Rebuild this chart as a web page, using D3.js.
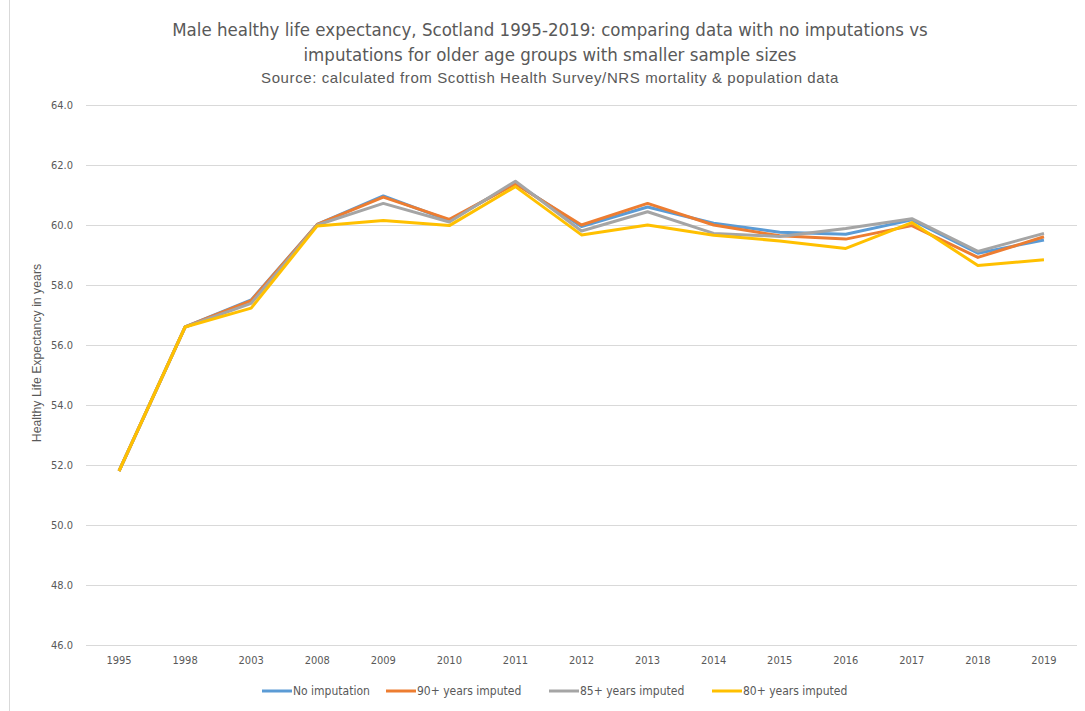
<!DOCTYPE html>
<html>
<head>
<meta charset="utf-8">
<script src="https://cdn.jsdelivr.net/npm/d3@7"></script>
<style>
  body { margin: 0; background: #fff; }
  svg text { font-family: "Liberation Sans Narrow", "DejaVu Sans Condensed", sans-serif; fill: #595959; }
</style>
</head>
<body>
<svg width="1085" height="711"></svg>
<script>
// Jaren (categorieen) en de vier reeksen
var years = ["1995", "1998", "2003", "2008", "2009", "2010", "2011", "2012", "2013", "2014", "2015", "2016", "2017", "2018", "2019"];
var noImputation = [51.8, 56.6, 57.5, 60.02, 60.97, 60.15, 61.4, 59.95, 60.6, 60.06, 59.76, 59.69, 60.17, 59.06, 59.5];
var imputed90 = [51.8, 56.6, 57.48, 60.02, 60.93, 60.19, 61.37, 60.0, 60.72, 60.0, 59.64, 59.53, 59.98, 58.92, 59.61];
var imputed85 = [51.8, 56.6, 57.39, 60.0, 60.72, 60.1, 61.46, 59.8, 60.44, 59.72, 59.62, 59.88, 60.21, 59.12, 59.72];
var imputed80 = [51.8, 56.6, 57.23, 59.97, 60.15, 59.98, 61.28, 59.67, 60.0, 59.66, 59.47, 59.22, 60.08, 58.65, 58.84];
var yTicks = [46, 48, 50, 52, 54, 56, 58, 60, 62, 64];

var seriesNames = ["No imputation", "90+ years imputed", "85+ years imputed", "80+ years imputed"];
var seriesValues = [noImputation, imputed90, imputed85, imputed80];
var colors = ["#5B9BD5", "#ED7D31", "#A5A5A5", "#FFC000"];

var svg = d3.select("svg");

// Plotgebied
var plot = { left: 86, right: 1077, top: 105, bottom: 645 };

var x = d3.scaleBand().domain(years).range([plot.left, plot.right]);
var y = d3.scaleLinear().domain([46, 64]).range([plot.bottom, plot.top]);

// Rand van de grafiek (alleen links zichtbaar)
svg.append("line")
    .attr("x1", 9.5).attr("x2", 9.5)
    .attr("y1", 0).attr("y2", 711)
    .attr("stroke", "#d9d9d9");

// Titel
svg.append("text")
    .attr("x", 550).attr("y", 36)
    .attr("text-anchor", "middle")
    .style("font-size", "18.5px")
    .text("Male healthy life expectancy, Scotland 1995-2019: comparing data with no imputations vs");
svg.append("text")
    .attr("x", 550).attr("y", 61)
    .attr("text-anchor", "middle")
    .style("font-size", "18.5px")
    .text("imputations for older age groups with smaller sample sizes");
svg.append("text")
    .attr("x", 550).attr("y", 83)
    .attr("text-anchor", "middle")
    .style("font-size", "15px")
    .style("font-family", "'Liberation Sans', sans-serif")
    .style("letter-spacing", "0.6px")
    .text("Source: calculated from Scottish Health Survey/NRS mortality & population data");

// Y-as met rasterlijnen
var yAxis = svg.append("g")
    .attr("transform", "translate(" + plot.left + ",0)")
    .call(d3.axisLeft(y).tickValues(yTicks).tickFormat(d3.format(".1f")).tickSize(-(plot.right - plot.left)).tickPadding(13));
yAxis.select(".domain").remove();
yAxis.selectAll("line").attr("stroke", "#d9d9d9");
yAxis.selectAll("text").style("font-size", "11px").attr("fill", "#595959");

// X-as
var xAxis = svg.append("g")
    .attr("transform", "translate(0," + plot.bottom + ")")
    .call(d3.axisBottom(x).tickSize(0).tickPadding(11));
xAxis.select(".domain").remove();
xAxis.selectAll("text").style("font-size", "11px").attr("fill", "#595959");

// As-titel
svg.append("text")
    .attr("transform", "translate(41,353) rotate(-90)")
    .attr("text-anchor", "middle")
    .style("font-size", "12.3px")
    .style("font-family", "'Liberation Sans', sans-serif")
    .text("Healthy Life Expectancy in years");

// Lijnen
var line = d3.line()
    .x(function (d, i) { return x(years[i]) + x.bandwidth() / 2; })
    .y(function (d) { return y(d); });

svg.selectAll(".series")
    .data(seriesValues)
    .enter().append("path")
    .attr("class", "series")
    .attr("d", line)
    .attr("fill", "none")
    .attr("stroke", function (d, i) { return colors[i]; })
    .attr("stroke-width", 3)
    .attr("stroke-linejoin", "round");

// Legenda
var legendX = [262, 386, 549, 712];
var legend = svg.selectAll(".legend")
    .data(seriesNames)
    .enter().append("g")
    .attr("class", "legend")
    .attr("transform", function (d, i) { return "translate(" + legendX[i] + ",691)"; });
legend.append("line")
    .attr("x1", 0).attr("x2", 30)
    .attr("stroke", function (d, i) { return colors[i]; })
    .attr("stroke-width", 3);
legend.append("text")
    .attr("x", 31).attr("y", 4)
    .style("font-size", "12px")
    .text(function (d) { return d; });
</script>
</body>
</html>
